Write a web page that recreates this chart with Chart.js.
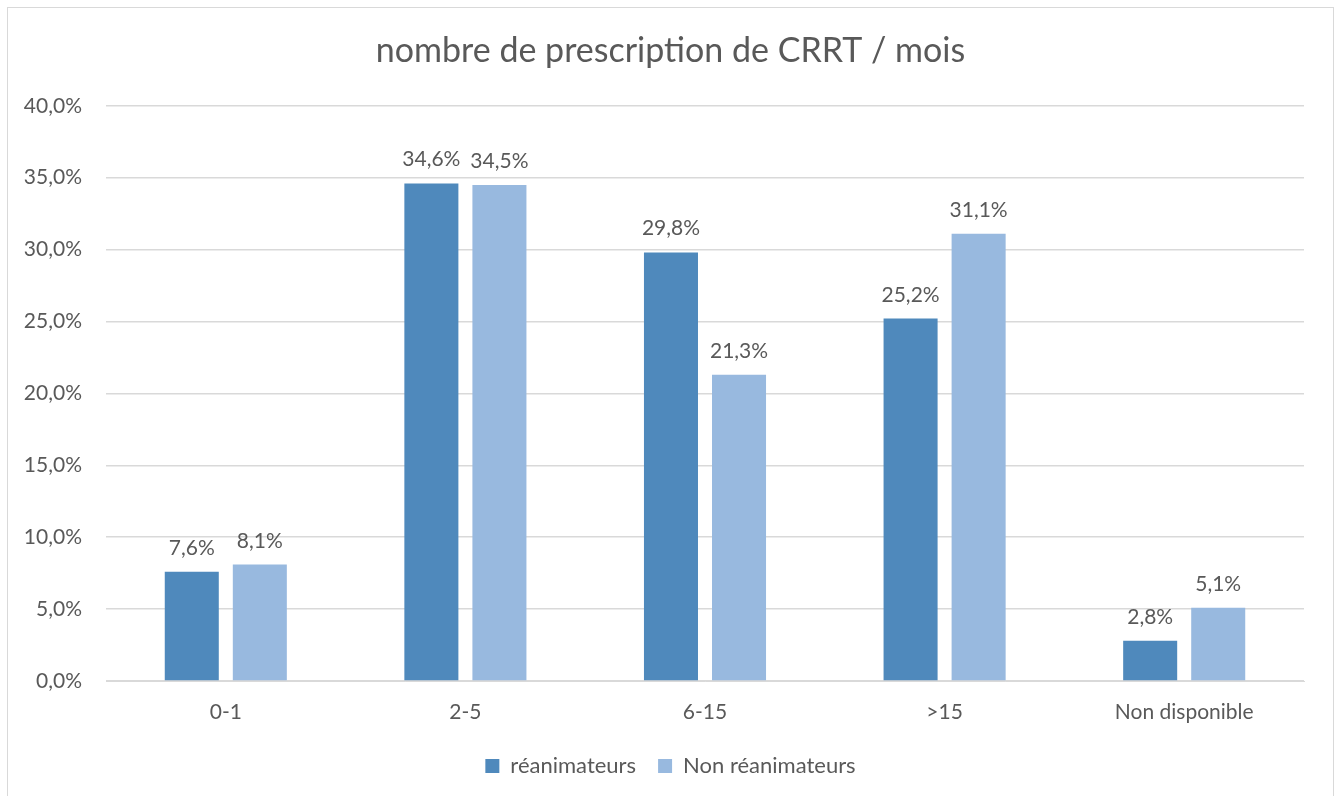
<!DOCTYPE html>
<html lang="fr">
<head>
<meta charset="utf-8">
<title>nombre de prescription de CRRT / mois</title>
<script src="https://cdn.jsdelivr.net/npm/chart.js@4/dist/chart.umd.min.js"></script>
<style>
  html, body { margin: 0; padding: 0; background: #fff; }
  #cadre {
    position: absolute; left: 7px; top: 7px; width: 1325px; height: 800px;
    border: 1px solid #d9d9d9;
  }
  #zone { position: absolute; left: 0; top: 0; width: 1341px; height: 796px; }
</style>
</head>
<body>
<div id="cadre"></div>
<div id="zone"><canvas id="graphique"></canvas></div>
<script>
const categories = ["0-1", "2-5", "6-15", ">15", "Non disponible"];
const reanimateurs = [7.6, 34.6, 29.8, 25.2, 2.8];
const nonReanimateurs = [8.1, 34.5, 21.3, 31.1, 5.1];
const seriesNoms = ["réanimateurs", "Non réanimateurs"];

const couleurTexte = "#595959";
const police = "Lato, 'Open Sans', sans-serif";

function formatPct(v, dec) {
  return v.toFixed(dec).replace(".", ",") + "%";
}

// etiquettes au-dessus des barres
const etiquettes = {
  id: "etiquettes",
  afterDatasetsDraw(chart) {
    const ctx = chart.ctx;
    ctx.save();
    ctx.font = "21px " + police;
    ctx.fillStyle = couleurTexte;
    ctx.textAlign = "center";
    ctx.textBaseline = "alphabetic";
    chart.data.datasets.forEach((ds, i) => {
      chart.getDatasetMeta(i).data.forEach((el, j) => {
        ctx.fillText(formatPct(ds.data[j], 1), el.x, el.y - 17);
      });
    });
    ctx.restore();
  },
};

const ctx = document.getElementById("graphique").getContext("2d");

new Chart(ctx, {
  type: "bar",
  data: {
    labels: categories,
    datasets: [
      {
        label: seriesNoms[0],
        data: reanimateurs,
        backgroundColor: "#4f89bc",
        categoryPercentage: 0.568,
        barPercentage: 0.794,
      },
      {
        label: seriesNoms[1],
        data: nonReanimateurs,
        backgroundColor: "#98b9df",
        categoryPercentage: 0.568,
        barPercentage: 0.794,
      },
    ],
  },
  options: {
    responsive: true,
    maintainAspectRatio: false,
    animation: false,
    layout: { padding: { left: 0, right: 0, top: 0, bottom: 9 } },
    plugins: {
      title: {
        display: true,
        text: "nombre de prescription de CRRT / mois",
        color: couleurTexte,
        font: { family: police, size: 34, weight: "normal" },
        padding: { top: 31, bottom: 34 },
      },
      legend: {
        position: "bottom",
        labels: {
          color: couleurTexte,
          font: { family: police, size: 22 },
          boxWidth: 14,
          boxHeight: 14,
          padding: 22,
        },
      },
      tooltip: { enabled: false },
    },
    scales: {
      x: {
        grid: { display: false, drawTicks: false },
        border: { color: "#d9d9d9", width: 1 },
        ticks: {
          color: couleurTexte,
          font: { family: police, size: 21 },
          padding: 19,
        },
        afterFit: (scale) => { scale.height = 52; },
      },
      y: {
        min: 0,
        max: 40,
        ticks: {
          stepSize: 5,
          color: couleurTexte,
          font: { family: police, size: 21 },
          padding: 24,
          callback: (v) => formatPct(v, 1),
        },
        grid: { color: "#d9d9d9", lineWidth: 1.5, drawTicks: false },
        border: { display: false },
        afterFit: (scale) => { scale.width = 106; },
      },
      // axe vide a droite, juste pour la marge
      marge: {
        type: "linear",
        position: "right",
        ticks: { display: false },
        grid: { display: false, drawTicks: false },
        border: { display: false },
        afterFit: (scale) => { scale.width = 37; },
      },
    },
  },
  plugins: [etiquettes],
});
</script>
</body>
</html>
